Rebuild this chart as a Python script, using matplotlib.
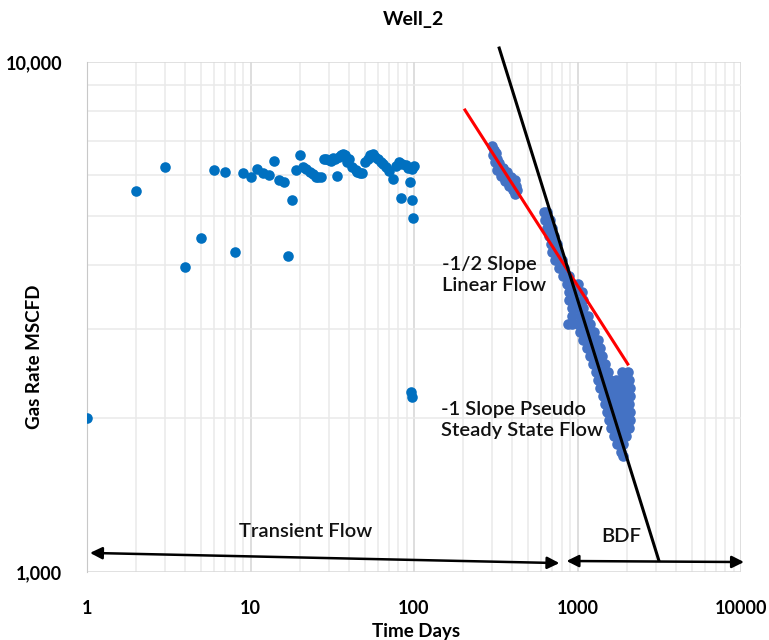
import matplotlib
matplotlib.use('Agg')
import matplotlib.pyplot as plt
from matplotlib.ticker import FixedLocator, NullFormatter

plt.rcParams['font.family'] = ['Lato', 'DejaVu Sans']

# early production (transient period), days / MSCFD
early_days = [1, 2, 3, 4, 5, 6, 7, 8, 9, 10, 11, 12, 13, 14, 15, 16, 17, 18,
              19, 20, 21, 22, 23, 24, 25, 26, 27, 28, 29, 30, 31, 32, 33, 34,
              35, 36, 37, 38, 39, 40, 42, 44, 45, 47, 48, 50, 52, 54, 56, 58,
              60, 63, 65, 67, 70, 74, 78, 81, 83, 85, 89, 92, 95, 97, 97, 99,
              100, 96, 97]
early_rate = [2000, 5590, 6220, 3960, 4515, 6130, 6080, 4250, 6060, 5960,
              6160, 6060, 6000, 6400, 5870, 5815, 4165, 5360, 6130, 6580,
              6235, 6170, 6095, 6020, 5955, 5940, 5940, 6445, 6440, 6420,
              6405, 6480, 6450, 5975, 6520, 6560, 6600, 6575, 6370, 6450,
              6235, 6130, 6095, 6070, 6060, 6370, 6450, 6575, 6600, 6520,
              6450, 6370, 6300, 6235, 6100, 5905, 6250, 6370, 5400, 6300,
              6285, 6200, 5825, 5375, 6160, 4940, 6250, 2255, 2205]

# later production (after shut-in), first block
late1_days = [301, 310, 305, 318, 323, 314, 332, 337, 323, 352, 357, 342,
              372, 377, 362, 394, 399, 383, 417, 423, 405, 429, 417]
late1_rate = [6840, 6720, 6570, 6630, 6450, 6370, 6340, 6200, 6140, 6200,
              6030, 5980, 6090, 5920, 5840, 5950, 5790, 5710, 5870, 5710,
              5610, 5610, 5510]

# later production, second block: rate level -> days read at that level
late2_levels = [5080, 4900, 4727, 4558, 4397, 4241, 4090, 3946, 3805, 3671,
                3540, 3415, 3293, 3177, 3064, 2955, 2851, 2749, 2652, 2558,
                2467, 2379, 2295, 2213, 2135, 2059, 1986, 1916, 1848, 1782,
                1719, 1688]
late2_days = [
    [627, 655], [636, 683], [655, 703], [673, 723], [693, 754], [703, 764],
    [733, 809], [775, 832], [821, 881], [868, 945, 1014], [893, 972, 1058],
    [893, 972, 1073], [919, 1000, 1088], [932, 1029, 1152],
    [880, 919, 1000, 1104, 1185], [1029, 1136, 1254], [1088, 1202, 1327],
    [1136, 1254, 1365], [1185, 1290, 1404], [1236, 1346, 1464],
    [1290, 1404, 1528, 1862, 2027], [1327, 1444, 1572, 1711, 1862, 2056],
    [1365, 1485, 1617, 1760, 1916, 2085], [1424, 1550, 1687, 1836, 1999, 2085],
    [1464, 1594, 1735, 1889, 2056], [1507, 1640, 1785, 1943, 2085],
    [1550, 1687, 1836, 1999, 2085], [1594, 1735, 1889, 2056],
    [1663, 1810, 1970], [1735, 1889], [1836], [1889]]

# straight-line fits
half_slope_days = [205, 2030]
half_slope_rate = [8050, 2557]
unit_slope_days = [332, 3140]
unit_slope_rate = [10650, 1055]

x_ticks = [1, 10, 100, 1000, 10000]
x_labels = ['1', '10', '100', '1000', '10000']
y_ticks = [1000, 10000]
y_labels = ['1,000', '10,000']

W, H = 769, 640
fig = plt.figure(figsize=(W / 100, H / 100), dpi=100)
ax = fig.add_axes([87 / W, 1 - 572 / H, (741 - 87) / W, 510 / H])
ax.set_xscale('log')
ax.set_yscale('log')
ax.set_xlim(1, 10000)
ax.set_ylim(1000, 10000)

ax.xaxis.set_major_locator(FixedLocator(x_ticks))
ax.xaxis.set_minor_locator(FixedLocator(
    [m * 10 ** e for e in range(4) for m in range(2, 10)]))
ax.yaxis.set_major_locator(FixedLocator(y_ticks))
ax.yaxis.set_minor_locator(FixedLocator([m * 1000 for m in range(2, 10)]))
ax.set_xticklabels(x_labels)
ax.set_yticklabels(y_labels)
ax.xaxis.set_minor_formatter(NullFormatter())
ax.yaxis.set_minor_formatter(NullFormatter())
ax.tick_params(which='both', length=0)
ax.tick_params(axis='x', pad=20, labelsize=13)
ax.tick_params(axis='y', pad=18, labelsize=13)
for lab in ax.get_xticklabels() + ax.get_yticklabels():
    lab.set_fontweight('bold')

ax.grid(which='major', axis='x', color='#D4D4D4', lw=1.1)
ax.grid(which='minor', axis='x', color='#EAEAEA', lw=1.1)
ax.grid(which='major', axis='y', color='#D9D9D9', lw=1.1)
ax.grid(which='minor', axis='y', color='#EAEAEA', lw=1.1)
ax.set_axisbelow(True)
for sp in ax.spines.values():
    sp.set_visible(False)
ax.spines['left'].set_visible(True)
ax.spines['left'].set_color('#C8C8C8')

ax.scatter(early_days, early_rate, s=58, color='#0070C0', lw=0, zorder=3)
ax.scatter(late1_days, late1_rate, s=58, color='#4472C4', lw=0, zorder=3)
l2x = [d for row in late2_days for d in row]
l2y = [lv for lv, row in zip(late2_levels, late2_days) for _ in row]
ax.scatter(l2x, l2y, s=58, color='#4472C4', lw=0, zorder=3)

ax.plot(half_slope_days, half_slope_rate, color='#FF0000', lw=2.2, zorder=4)
ax.plot(unit_slope_days, unit_slope_rate, color='black', lw=2.2, zorder=4,
        clip_on=False)

arrow = dict(arrowstyle='<|-|>', color='black', lw=1.8,
             mutation_scale=18, shrinkA=0, shrinkB=0)
ax.annotate('', xy=(775, 1041), xytext=(1.043, 1090), arrowprops=arrow,
            annotation_clip=False)
ax.annotate('', xy=(10430, 1046), xytext=(857, 1051), arrowprops=arrow,
            annotation_clip=False)

txt = dict(fontsize=14.5, color='#111111', fontweight='semibold',
           linespacing=1.3)
ax.text(148, 3823, '-1/2 Slope\nLinear Flow', ha='left', va='center', **txt)
ax.text(146, 1986, '-1 Slope Pseudo\nSteady State Flow', ha='left',
        va='center', **txt)
ax.text(21.8, 1203, 'Transient Flow', ha='center', va='center', **txt)
ax.text(1862, 1176, 'BDF', ha='center', va='center', **txt)

fig.text(413 / W, 1 - 20 / H, 'Well_2', ha='center', va='center',
         fontsize=14, fontweight='bold')
fig.text(34 / W, 1 - 357 / H, 'Gas Rate MSCFD', rotation=90, ha='center',
         va='center', fontsize=13.5, fontweight='bold')
fig.text(416 / W, 1 - 631 / H, 'Time Days', ha='center', va='center',
         fontsize=13.5, fontweight='bold')

fig.savefig('out.png', dpi=100)
